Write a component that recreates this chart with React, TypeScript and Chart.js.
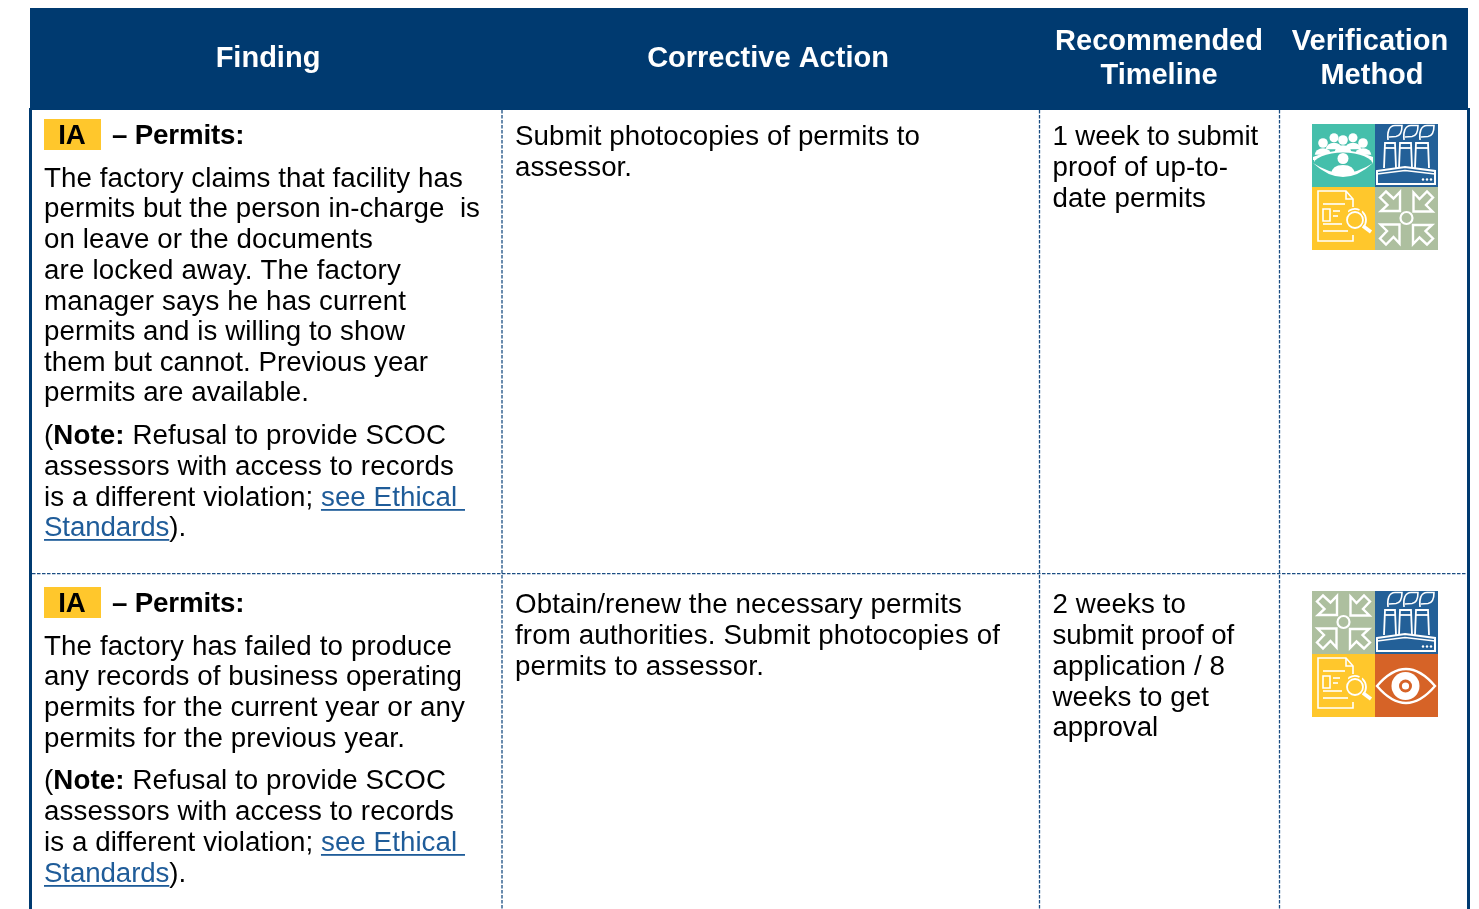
import React, { useEffect, useRef } from "react";
import { Chart, registerables } from "chart.js";

Chart.register(...registerables);

const headerLabels = ["Finding", "Corrective Action", "Recommended", "Timeline", "Verification", "Method"];
const tagLabel = "IA";
const tagTitle = "– Permits:";

const finding1 = [
  "The factory claims that facility has",
  "permits but the person in-charge  is",
  "on leave or the documents",
  "are locked away. The factory",
  "manager says he has current",
  "permits and is willing to show",
  "them but cannot. Previous year",
  "permits are available.",
];
const finding2 = [
  "The factory has failed to produce",
  "any records of business operating",
  "permits for the current year or any",
  "permits for the previous year.",
];
const noteLines = [
  "(**Note:** Refusal to provide SCOC",
  "assessors with access to records",
  "is a different violation; [[see Ethical ]]",
  "[[Standards]]).",
];
const action1 = ["Submit photocopies of permits to", "assessor."];
const action2 = [
  "Obtain/renew the necessary permits",
  "from authorities. Submit photocopies of",
  "permits to assessor.",
];
const timeline1 = ["1 week to submit", "proof of up-to-", "date permits"];
const timeline2 = ["2 weeks to", "submit proof of", "application / 8", "weeks to get", "approval"];
const icons1 = ["people", "factory", "document", "arrows"];
const icons2 = ["arrows", "factory", "document", "eye"];

const NAVY = "#003a70";
const LINK = "#1f5c99";
const YELLOW = "#ffc72c";
const FONT = '"Liberation Sans", Arial, sans-serif';
const BODY = 27.7;
const TILE_COLORS: Record<string, string> = {
  people: "#45bfab",
  factory: "#236098",
  document: "#ffc72c",
  arrows: "#adbf9f",
  eye: "#d66327",
};

type Ctx = CanvasRenderingContext2D;

function poly(ctx: Ctx, pts: number[][], close = true) {
  ctx.beginPath();
  pts.forEach((p, i) => (i ? ctx.lineTo(p[0], p[1]) : ctx.moveTo(p[0], p[1])));
  if (close) ctx.closePath();
  ctx.stroke();
}
function disc(ctx: Ctx, x: number, y: number, r: number, color = "#fff") {
  ctx.fillStyle = color;
  ctx.beginPath();
  ctx.arc(x, y, r, 0, Math.PI * 2);
  ctx.fill();
}

const drawers: Record<string, (ctx: Ctx) => void> = {
  people(ctx) {
    const bg = TILE_COLORS.people;
    const back = [[22, 13.7, 4.5], [41, 13.7, 4.5], [11, 19, 4.8], [51, 19, 4.8], [31, 16, 4.8]];
    back.forEach(([x, y, r]) => {
      disc(ctx, x, y, r);
      ctx.fillStyle = "#fff";
      ctx.beginPath();
      ctx.ellipse(x, y + r + 7, r + 3.5, 6.5, 0, Math.PI, 0);
      ctx.fill();
    });
    ctx.fillStyle = "#fff";
    ctx.beginPath();
    ctx.moveTo(1, 33);
    ctx.quadraticCurveTo(31, 20, 61, 33);
    ctx.lineTo(61, 40);
    ctx.lineTo(1, 40);
    ctx.closePath();
    ctx.fill();
    ctx.fillStyle = bg;
    ctx.beginPath();
    ctx.ellipse(31, 41, 30, 12.5, 0, 0, Math.PI * 2);
    ctx.fill();
    ctx.fillRect(0, 36, 2, 4);
    ctx.fillRect(61, 36, 2, 4);
    ctx.fillStyle = "#fff";
    ctx.beginPath();
    ctx.moveTo(1, 39);
    ctx.quadraticCurveTo(31, 67, 61, 39);
    ctx.quadraticCurveTo(31, 59, 1, 39);
    ctx.fill();
    disc(ctx, 31, 34.5, 5.5);
    ctx.beginPath();
    ctx.moveTo(19, 50);
    ctx.quadraticCurveTo(20, 41, 31, 41);
    ctx.quadraticCurveTo(42, 41, 43, 50);
    ctx.quadraticCurveTo(31, 53, 19, 50);
    ctx.fill();
  },
  factory(ctx) {
    ctx.strokeStyle = "#fff";
    ctx.lineWidth = 1.8;
    [[10, 20], [25, 36], [41, 53]].forEach(([a, b]) => {
      poly(ctx, [[a - 1, 44], [a, 19], [b, 19], [b + 1, 44]], false);
      poly(ctx, [[a, 24], [b, 24]], false);
    });
    ctx.lineWidth = 1.6;
    [0, 16, 32].forEach((dx) => {
      ctx.beginPath();
      ctx.moveTo(13 + dx, 16);
      ctx.bezierCurveTo(12 + dx, 8, 14 + dx, 1.5, 20 + dx, 1.5);
      ctx.lineTo(27 + dx, 1.5);
      ctx.bezierCurveTo(27 + dx, 8, 25 + dx, 12, 21 + dx, 12.5);
      ctx.lineTo(14 + dx, 13);
      ctx.stroke();
    });
    ctx.lineWidth = 2;
    poly(ctx, [[2, 47], [30, 43], [60, 47], [60, 60], [2, 60]]);
    ctx.lineWidth = 1.4;
    poly(ctx, [[2, 50], [30, 46.5], [60, 50]], false);
    [48, 52, 56].forEach((x) => disc(ctx, x, 55.5, 1.2));
  },
  document(ctx) {
    ctx.strokeStyle = "#fff";
    ctx.lineWidth = 1.6;
    poly(ctx, [[41, 20], [41, 12], [34, 4], [6, 4], [6, 54], [41, 54], [41, 48]], false);
    poly(ctx, [[34, 4], [34, 12], [41, 12]], false);
    poly(ctx, [[11, 17], [33, 17]], false);
    poly(ctx, [[11, 22], [18, 22], [18, 34], [11, 34]]);
    poly(ctx, [[21, 24], [28, 24]], false);
    poly(ctx, [[21, 29], [26, 29]], false);
    poly(ctx, [[11, 37], [30, 37]], false);
    poly(ctx, [[11, 44], [36, 44]], false);
    ctx.lineWidth = 1.8;
    ctx.beginPath();
    ctx.arc(43, 33, 8, 0, Math.PI * 2);
    ctx.moveTo(50.5, 25.5);
    ctx.arc(43, 33, 11, -0.8, 0.75);
    ctx.moveTo(37, 23.5);
    ctx.arc(43, 33, 11, -2.15, -1.15);
    ctx.stroke();
    ctx.lineWidth = 3.6;
    poly(ctx, [[51, 39], [59, 45]], false);
  },
  arrows(ctx) {
    ctx.strokeStyle = "#fff";
    ctx.lineWidth = 2.4;
    const head = [[25, 24], [25, 5], [18.5, 11.5], [11, 4.5], [5, 10.5], [12.5, 18], [6, 24]];
    [0, 1, 2, 3].forEach((k) => {
      ctx.save();
      ctx.translate(31.5, 31);
      ctx.rotate((k * Math.PI) / 2);
      ctx.translate(-31.5, -31);
      poly(ctx, head);
      ctx.restore();
    });
    ctx.lineWidth = 2.2;
    ctx.beginPath();
    ctx.arc(31.5, 31, 6, 0, Math.PI * 2);
    ctx.stroke();
  },
  eye(ctx) {
    const bg = TILE_COLORS.eye;
    ctx.strokeStyle = "#fff";
    ctx.lineWidth = 2.4;
    ctx.beginPath();
    ctx.moveTo(2, 32);
    ctx.quadraticCurveTo(31, -2, 60, 32);
    ctx.quadraticCurveTo(31, 66, 2, 32);
    ctx.closePath();
    ctx.stroke();
    disc(ctx, 30.5, 32, 14);
    disc(ctx, 30.5, 32, 6.5, bg);
    disc(ctx, 30.5, 32, 3.6);
  },
};

type Seg = { t: string; bold: boolean; link: boolean };
function parse(line: string): Seg[] {
  return line
    .split(/(\*\*.*?\*\*|\[\[.*?\]\])/)
    .filter(Boolean)
    .map((s) =>
      s.startsWith("**")
        ? { t: s.slice(2, -2), bold: true, link: false }
        : s.startsWith("[[")
          ? { t: s.slice(2, -2), bold: false, link: true }
          : { t: s, bold: false, link: false }
    );
}

function App() {
  const ref = useRef<HTMLCanvasElement>(null);
  useEffect(() => {
    const tablePlugin = {
      id: "table",
      afterDraw(chart: any) {
        const ctx: Ctx = chart.ctx;
        const c = ctx as any;
        const X = (v: number) => chart.scales.x.getPixelForValue(v);
        const Y = (v: number) => chart.scales.y.getPixelForValue(v);
        const rect = (x0: number, y0: number, x1: number, y1: number, col: string) => {
          ctx.fillStyle = col;
          ctx.fillRect(X(x0), Y(y0), X(x1) - X(x0), Y(y1) - Y(y0));
        };
        const para = (lines: string[], x: number, baselines: number[], rights: number[]) => {
          ctx.textAlign = "left";
          ctx.textBaseline = "alphabetic";
          lines.forEach((line, i) => {
            const segs = parse(line);
            c.letterSpacing = "0px";
            let natural = 0;
            let chars = 0;
            segs.forEach((s) => {
              ctx.font = `${s.bold ? "bold " : ""}${BODY}px ${FONT}`;
              natural += ctx.measureText(s.t).width;
              chars += s.t.length;
            });
            const ls = (rights[i] - x - natural) / chars;
            c.letterSpacing = `${ls}px`;
            let cx = X(x);
            const by = Y(baselines[i]);
            segs.forEach((s) => {
              ctx.font = `${s.bold ? "bold " : ""}${BODY}px ${FONT}`;
              ctx.fillStyle = s.link ? LINK : "#000";
              ctx.fillText(s.t, cx, by);
              const w = ctx.measureText(s.t).width;
              if (s.link) {
                ctx.fillStyle = LINK;
                ctx.fillRect(cx, by + 3, w, 1.8);
              }
              cx += w;
            });
          });
          c.letterSpacing = "0px";
        };
        const center = (t: string, cx: number, by: number) => {
          ctx.font = `bold 29px ${FONT}`;
          ctx.fillStyle = "#fff";
          ctx.textAlign = "center";
          ctx.textBaseline = "alphabetic";
          ctx.fillText(t, X(cx), Y(by));
        };
        const tag = (y: number) => {
          rect(44, y, 101, y + 31, YELLOW);
          ctx.font = `bold ${BODY}px ${FONT}`;
          ctx.fillStyle = "#000";
          ctx.textAlign = "center";
          ctx.textBaseline = "alphabetic";
          ctx.fillText(tagLabel, X(72), Y(y + 25));
          ctx.textAlign = "left";
          c.letterSpacing = "-0.15px";
          ctx.fillText(tagTitle, X(112), Y(y + 25));
          c.letterSpacing = "0px";
        };
        const iconGrid = (names: string[], x: number, y: number) => {
          names.forEach((n, i) => {
            const tx = X(x + (i % 2) * 63);
            const ty = Y(y + (i > 1 ? 1 : 0) * 63);
            ctx.save();
            ctx.translate(tx, ty);
            ctx.fillStyle = TILE_COLORS[n];
            ctx.fillRect(0, 0, 63, 63);
            ctx.beginPath();
            ctx.rect(0, 0, 63, 63);
            ctx.clip();
            drawers[n](ctx);
            ctx.restore();
          });
        };

        ctx.save();
        rect(30, 8, 1468, 110, NAVY);
        rect(29, 108, 32, 909, NAVY);
        rect(1467, 108, 1470, 909, NAVY);

        ctx.strokeStyle = "#1a4d82";
        ctx.lineWidth = 1.3;
        ctx.setLineDash([3.5, 1.5]);
        ctx.beginPath();
        [502, 1039.5, 1279.5].forEach((x) => {
          ctx.moveTo(X(x), Y(110));
          ctx.lineTo(X(x), Y(909));
        });
        ctx.moveTo(X(32), Y(573.7));
        ctx.lineTo(X(1467), Y(573.7));
        ctx.stroke();
        ctx.setLineDash([]);

        center(headerLabels[0], 268, 67);
        center(headerLabels[1], 768, 67);
        center(headerLabels[2], 1159, 50);
        center(headerLabels[3], 1159, 84);
        center(headerLabels[4], 1370, 50);
        center(headerLabels[5], 1372, 84);

        const noteRights = [446, 454, 465, 186];
        tag(119);
        para(finding1, 44, [187, 217, 248, 279, 310, 340, 371, 401], [463, 480, 373, 401, 406, 405, 428, 309]);
        para(noteLines, 44, [444, 475, 506, 536], noteRights);
        para(action1, 515, [145, 176], [920, 632]);
        para(timeline1, 1052.5, [145, 176, 207], [1258, 1228, 1206]);
        iconGrid(icons1, 1312, 124);

        tag(587);
        para(finding2, 44, [655, 685, 716, 747], [452, 462, 465, 405]);
        para(noteLines, 44, [789, 820, 851, 882], noteRights);
        para(action2, 515, [613, 644, 675], [962, 1000, 764]);
        para(timeline2, 1052.5, [613, 644, 675, 706, 736], [1186, 1234, 1225, 1209, 1158]);
        iconGrid(icons2, 1312, 591);
        ctx.restore();
      },
    };
    const chart = new Chart(ref.current as HTMLCanvasElement, {
      type: "scatter",
      data: { datasets: [] },
      options: {
        animation: false,
        responsive: false,
        layout: { padding: 0 },
        plugins: { legend: { display: false }, tooltip: { enabled: false } },
        scales: {
          x: { type: "linear", display: false, min: 0, max: 1479 },
          y: { type: "linear", display: false, min: 0, max: 909, reverse: true },
        },
      },
      plugins: [tablePlugin],
    } as any);
    return () => chart.destroy();
  }, []);
  return (
    <canvas
      ref={ref}
      width={1479}
      height={909}
      style={{ position: "absolute", left: 0, top: 0, display: "block" }}
    />
  );
}

export default App;
